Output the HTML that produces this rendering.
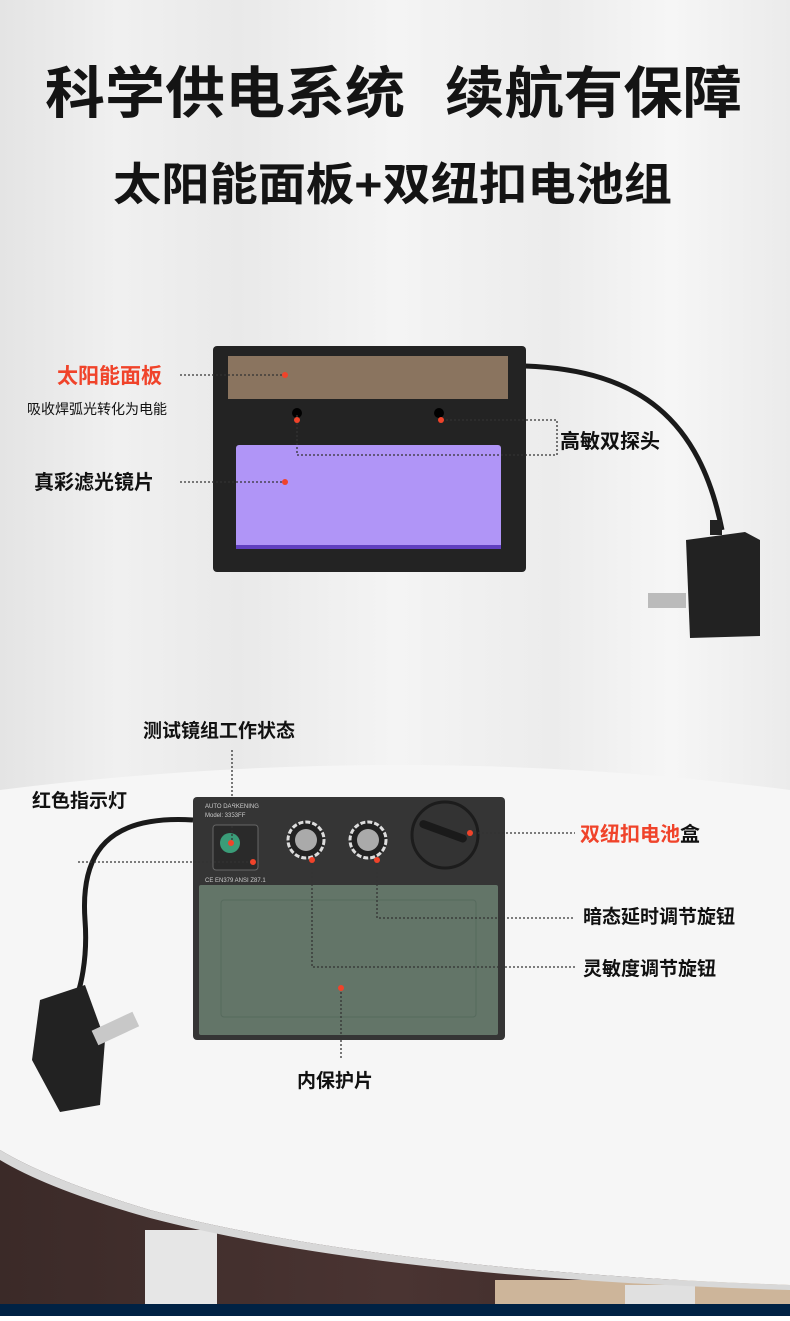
<!DOCTYPE html>
<html><head><meta charset="utf-8"><style>
body{margin:0;width:790px;height:1316px;overflow:hidden;font-family:"Liberation Sans","Noto Sans CJK SC",sans-serif;}
</style></head><body>
<svg width="790" height="1316" viewBox="0 0 790 1316" xmlns="http://www.w3.org/2000/svg" font-family="Liberation Sans, Noto Sans CJK SC, sans-serif">
<defs>
<linearGradient id="bg" x1="0" x2="1" y1="0" y2="0">
<stop offset="0" stop-color="#e4e4e4"/><stop offset=".15" stop-color="#f0f0f0"/><stop offset=".3" stop-color="#e9e9e9"/><stop offset=".5" stop-color="#f4f4f4"/><stop offset=".7" stop-color="#ececec"/><stop offset=".85" stop-color="#f6f6f6"/><stop offset="1" stop-color="#ebebeb"/>
</linearGradient>
<linearGradient id="wood" x1="0" x2="1"><stop offset="0" stop-color="#3b2a28"/><stop offset=".5" stop-color="#4a3432"/><stop offset="1" stop-color="#3a2826"/></linearGradient>
</defs>
<rect width="790" height="1316" fill="url(#bg)"/>
<rect x="0" y="1150" width="790" height="160" fill="url(#wood)"/>
<rect x="495" y="1280" width="295" height="30" fill="#cdb59a"/>
<rect x="145" y="1230" width="72" height="80" fill="#e6e6e6"/>
<rect x="625" y="1285" width="70" height="25" fill="#e0e0e0"/>
<path d="M0 790 Q400 740 790 790 L790 1285 Q380 1270 150 1210 Q50 1180 0 1150 Z" fill="#f6f6f6"/>
<path d="M0 1150 Q50 1180 150 1210 Q380 1270 790 1285 L790 1290 Q380 1278 150 1218 Q50 1190 0 1160 Z" fill="#d8d8d8"/>
<rect x="0" y="1304" width="790" height="12" fill="#002244"/>

<text x="45" y="113" font-size="56" font-weight="bold" fill="#141414" textLength="360" lengthAdjust="spacingAndGlyphs">科学供电系统</text>
<text x="445" y="113" font-size="56" font-weight="bold" fill="#141414" textLength="297" lengthAdjust="spacingAndGlyphs">续航有保障</text>
<text x="113" y="200" font-size="45" font-weight="bold" fill="#141414" textLength="559" lengthAdjust="spacingAndGlyphs">太阳能面板+双纽扣电池组</text>

<!-- top device -->
<path d="M525 366 C640 370 700 420 722 530" stroke="#1a1a1a" stroke-width="5" fill="none"/>
<rect x="213" y="346" width="313" height="226" rx="4" fill="#232323"/>
<rect x="228" y="356" width="280" height="43" fill="#8a745f"/>
<rect x="236" y="445" width="265" height="104" rx="3" fill="#b095f7"/>
<rect x="236" y="545" width="265" height="4" fill="#6040c0"/>
<circle cx="297" cy="413" r="5" fill="#000"/><circle cx="439" cy="413" r="5" fill="#000"/>
<rect x="710" y="520" width="12" height="15" fill="#222"/>
<path d="M686 540 L745 532 L760 540 L760 636 L690 638 Z" fill="#222"/>
<rect x="648" y="593" width="38" height="15" fill="#bbb"/>
<g fill="none" stroke="#333" stroke-width="1.3" stroke-dasharray="2 2">
<path d="M180 375 H285"/><path d="M180 482 H285"/>
<path d="M297 415 V455 H557 V420 H440"/>
</g>
<g fill="#f0432a"><circle cx="285" cy="375" r="3"/><circle cx="285" cy="482" r="3"/><circle cx="297" cy="420" r="3"/><circle cx="441" cy="420" r="3"/></g>
<text x="57" y="383" font-size="21" font-weight="bold" fill="#f0432a">太阳能面板</text>
<text x="27" y="414" font-size="14" fill="#111">吸收焊弧光转化为电能</text>
<text x="34" y="489" font-size="20" font-weight="bold" fill="#111">真彩滤光镜片</text>
<text x="560" y="448" font-size="20" font-weight="bold" fill="#111">高敏双探头</text>

<!-- bottom device -->
<path d="M193 820 C110 815 80 850 85 920 C88 960 80 990 75 1000" stroke="#1a1a1a" stroke-width="5" fill="none"/>
<path d="M40 1000 L85 985 L105 1040 L100 1105 L60 1112 L32 1060 Z" fill="#222"/>
<rect x="95" y="1030" width="45" height="16" fill="#c8c8c8" transform="rotate(-25 95 1038)"/>
<rect x="193" y="797" width="312" height="243" rx="4" fill="#353535"/>
<rect x="199" y="885" width="299" height="150" rx="2" fill="#637568"/>
<rect x="221" y="900" width="255" height="117" rx="3" fill="none" stroke="#566a5d" stroke-width="1"/>
<rect x="213" y="825" width="45" height="45" rx="3" fill="#2a2a2a" stroke="#666"/>
<circle cx="230" cy="843" r="10" fill="#3a9c78"/>
<circle cx="306" cy="840" r="18" fill="#222" stroke="#ddd" stroke-width="3" stroke-dasharray="5 2"/>
<circle cx="306" cy="840" r="11" fill="#aaa"/>
<circle cx="368" cy="840" r="18" fill="#222" stroke="#ddd" stroke-width="3" stroke-dasharray="5 2"/>
<circle cx="368" cy="840" r="11" fill="#aaa"/>
<circle cx="445" cy="835" r="33" fill="#333" stroke="#1c1c1c" stroke-width="3"/>
<rect x="418" y="828" width="50" height="8" rx="4" fill="#1a1a1a" transform="rotate(20 445 832)"/>
<text x="205" y="808" font-size="6" fill="#ccc">AUTO DARKENING</text>
<text x="205" y="817" font-size="6" fill="#ccc">Model: 3353FF</text>
<text x="205" y="882" font-size="6" fill="#ccc">CE  EN379  ANSI Z87.1</text>
<g fill="none" stroke="#333" stroke-width="1.3" stroke-dasharray="2 2">
<path d="M232 750 V843"/><path d="M78 862 H253"/>
<path d="M312 860 V967 H575"/><path d="M377 860 V918 H575"/>
<path d="M470 833 H575"/><path d="M341 988 V1058"/>
</g>
<g fill="#f0432a"><circle cx="231" cy="843" r="3"/><circle cx="253" cy="862" r="3"/><circle cx="312" cy="860" r="3"/><circle cx="377" cy="860" r="3"/><circle cx="470" cy="833" r="3"/><circle cx="341" cy="988" r="3"/></g>
<text x="143" y="737" font-size="19" font-weight="bold" fill="#111">测试镜组工作状态</text>
<text x="32" y="807" font-size="19" font-weight="bold" fill="#111">红色指示灯</text>
<text x="580" y="841" font-size="20" font-weight="bold" fill="#f0432a">双纽扣电池<tspan fill="#111">盒</tspan></text>
<text x="583" y="923" font-size="19" font-weight="bold" fill="#111">暗态延时调节旋钮</text>
<text x="583" y="975" font-size="19" font-weight="bold" fill="#111">灵敏度调节旋钮</text>
<text x="297" y="1087" font-size="19" font-weight="bold" fill="#111">内保护片</text>
</svg>
</body></html>
